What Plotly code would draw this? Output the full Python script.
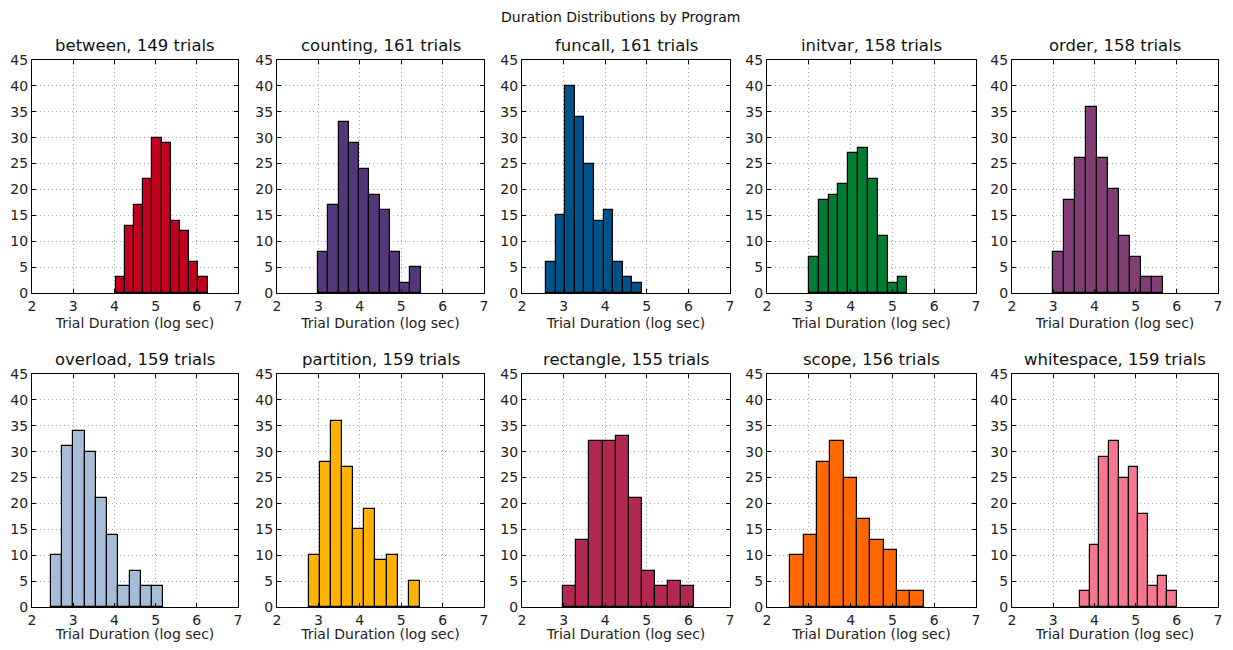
import plotly.graph_objects as go

# page body has an 8px margin, so the figure is drawn 8px in from the corner
OFF = 8
W, H = 1233 - 2 * OFF, 650 - 2 * OFF

programs = ["between", "counting", "funcall", "initvar", "order",
            "overload", "partition", "rectangle", "scope", "whitespace"]
trials = [149, 161, 161, 158, 158, 159, 159, 155, 156, 159]
colors = ["#C10020", "#53377A", "#00538A", "#007D34", "#803E75",
          "#A6BDD7", "#FFB300", "#B32851", "#FF6800", "#F6768E"]

# histogram range (log sec) of each program, 10 equal bins
bin_lo = [4.03, 2.99, 2.58, 3.00, 2.99, 2.46, 2.77, 2.99, 2.56, 3.65]
bin_hi = [6.26, 5.47, 4.88, 5.36, 5.67, 5.19, 5.45, 6.14, 5.75, 6.01]

counts_between = [3, 13, 17, 22, 30, 29, 14, 12, 6, 3]
counts_counting = [8, 17, 33, 29, 24, 19, 16, 8, 2, 5]
counts_funcall = [6, 15, 40, 34, 25, 14, 16, 6, 3, 2]
counts_initvar = [7, 18, 19, 21, 27, 28, 22, 11, 2, 3]
counts_order = [8, 18, 26, 36, 26, 20, 11, 7, 3, 3]
counts_overload = [10, 31, 34, 30, 21, 14, 4, 7, 4, 4]
counts_partition = [10, 28, 36, 27, 15, 19, 9, 10, 0, 5]
counts_rectangle = [4, 13, 32, 32, 33, 21, 7, 4, 5, 4]
counts_scope = [10, 14, 28, 32, 25, 17, 13, 11, 3, 3]
counts_whitespace = [3, 12, 29, 32, 25, 27, 18, 4, 6, 3]

all_counts = [counts_between, counts_counting, counts_funcall, counts_initvar,
              counts_order, counts_overload, counts_partition, counts_rectangle,
              counts_scope, counts_whitespace]

x_ticks = [2, 3, 4, 5, 6, 7]
y_ticks = [0, 5, 10, 15, 20, 25, 30, 35, 40, 45]

# layout in page pixels
col_px = [(32, 238), (277, 484), (522, 730), (767, 976), (1012, 1218)]
row_px = [(60, 293), (374, 607)]


def px_x(v):
    return (v - OFF) / W


def px_y(v):
    return 1 - (v - OFF) / H


fig = go.Figure()
FONT = "DejaVu Sans"

for i, prog in enumerate(programs):
    r, c = divmod(i, 5)
    n = len(all_counts[i])
    w = (bin_hi[i] - bin_lo[i]) / n
    centers = [bin_lo[i] + w * (k + 0.5) for k in range(n)]
    ax = "" if i == 0 else str(i + 1)
    fig.add_trace(go.Bar(
        x=centers, y=all_counts[i], width=[w] * n,
        marker=dict(color=colors[i], line=dict(color="black", width=1.2)),
        xaxis="x" + ax, yaxis="y" + ax, showlegend=False,
        hovertemplate="%{x:.2f}: %{y}<extra></extra>",
    ))
    x0, x1 = col_px[c]
    y0, y1 = row_px[r]
    common = dict(
        showline=True, linecolor="black", linewidth=1, mirror="ticks",
        ticks="inside", ticklen=4, tickcolor="black",
        showgrid=True, gridcolor="#a8a8a8", griddash="1px,3px", gridwidth=1,
        zeroline=False, automargin=False, ticklabeloverflow="allow",
        tickfont=dict(family=FONT, size=14, color="#222"),
    )
    fig.update_layout(**{
        "xaxis" + ax: dict(
            domain=[px_x(x0), px_x(x1)], range=[2, 7], tickvals=x_ticks,
            anchor="y" + ax,
            title=dict(text="Trial Duration (log sec)", standoff=5,
                       font=dict(family=FONT, size=14, color="#222")),
            **common),
        "yaxis" + ax: dict(
            domain=[px_y(y1), px_y(y0)], range=[0, 45], tickvals=y_ticks,
            anchor="x" + ax, **common),
    })
    fig.add_annotation(
        text=f"{prog}, {trials[i]} trials", xref="paper", yref="paper",
        x=px_x((x0 + x1) / 2), y=px_y(y0 - 3), xanchor="center", yanchor="bottom",
        showarrow=False, font=dict(family=FONT, size=16.5, color="#111"))

fig.add_annotation(
    text="Duration Distributions by Program", xref="paper", yref="paper",
    x=px_x(620), y=px_y(8), xanchor="center", yanchor="top", borderpad=0,
    showarrow=False, font=dict(family=FONT, size=14, color="#111"))

fig.update_layout(
    width=W, height=H, margin=dict(l=0, r=0, t=0, b=0),
    paper_bgcolor="white", plot_bgcolor="white", bargap=0,
)
fig.write_html("out.html")
